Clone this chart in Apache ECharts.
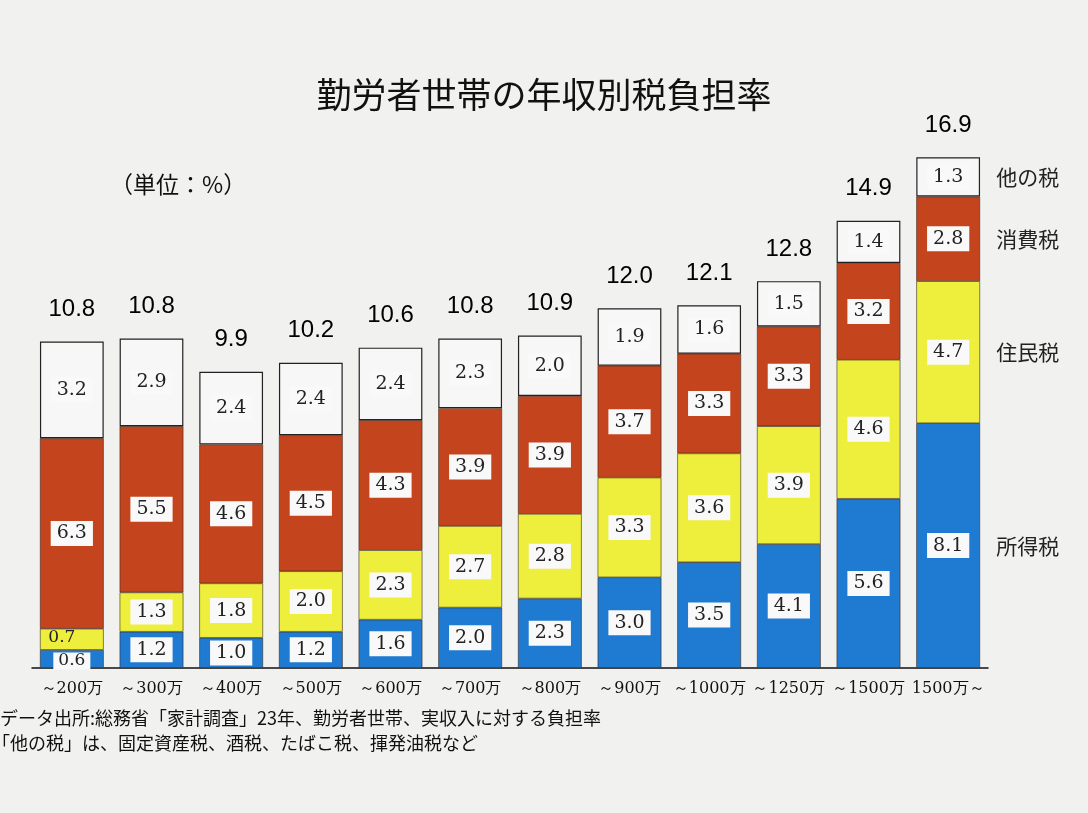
<!DOCTYPE html>
<html><head><meta charset="utf-8">
<script src="https://cdn.jsdelivr.net/npm/echarts@6/dist/echarts.min.js"></script>
<style>html,body{margin:0;padding:0;background:#f1f1f0}#c{width:1088px;height:813px}</style>
</head><body><div id="c"></div>
<script>
const categories = ['～200万','～300万','～400万','～500万','～600万','～700万','～800万','～900万','～1000万','～1250万','～1500万','1500万～'];
const incomeTax = [0.6,1.2,1.0,1.2,1.6,2.0,2.3,3.0,3.5,4.1,5.6,8.1];
const residentTax = [0.7,1.3,1.8,2.0,2.3,2.7,2.8,3.3,3.6,3.9,4.6,4.7];
const consumptionTax = [6.3,5.5,4.6,4.5,4.3,3.9,3.9,3.7,3.3,3.3,3.2,2.8];
const otherTax = [3.2,2.9,2.4,2.4,2.4,2.3,2.0,1.9,1.6,1.5,1.4,1.3];
const totals = [10.8,10.8,9.9,10.2,10.6,10.8,10.9,12.0,12.1,12.8,14.9,16.9];
const seriesNames = ['所得税','住民税','消費税','他の税'];

const chart = echarts.init(document.getElementById('c'));
const stacks = [incomeTax,residentTax,consumptionTax,otherTax];
const colors = ['#1f7ad2','#eeee3c','#c4441e','#f7f7f7'];
const serif = '"DejaVu Serif","Liberation Serif",serif';
const jp = '"Noto Sans CJK JP","Noto Sans",sans-serif';

const barSeries = stacks.map((arr,k)=>({
  name: seriesNames[k], type:'bar', stack:'t', barWidth:'80%',
  data: arr,
  itemStyle:{color:colors[k], borderColor: k===3?'#222':'#3a2a20', borderWidth: k===3?1.2:0.6},
  label:{show:true, position:'inside', fontFamily:serif, fontSize:19, color:'#222',
    backgroundColor:'#f9f9f9', padding: [3,6],
    formatter: p=>p.value.toFixed(1)}
}));
// small first-bar labels
barSeries[0].data = incomeTax.map((v,i)=> i===0 ? {value:v,label:{padding:[0,5],fontSize:17,offset:[0,2]}} : v);
barSeries[1].data = residentTax.map((v,i)=> i===0 ? {value:v,label:{padding:[0,5],fontSize:17,backgroundColor:'transparent',offset:[-10,-2]}} : v);

const sums = categories.map((c,i)=>stacks.reduce((s,a)=>s+a[i],0));
const last = categories.length-1;
const nameMarks = stacks.map((arr,k)=>{
  let base = 0; for(let j=0;j<k;j++) base += stacks[j][last];
  return {value:[last, base + arr[last]/2], label:{formatter: seriesNames[k]}};
});

chart.setOption({
  backgroundColor:'#f1f1f0',
  animation:false,
  title:{text:'勤労者世帯の年収別税負担率', left:'center', top:72,
    textStyle:{fontFamily:jp, fontSize:35, fontWeight:'normal', color:'#111'}},
  graphic:[
    {type:'text', left:110, top:173, style:{text:'（単位：%）', font:'23px '+jp, fill:'#111'}},
    {type:'text', left:0, top:709, style:{text:'データ出所:総務省「家計調査」23年、勤労者世帯、実収入に対する負担率', font:'18px '+jp, fill:'#111'}},
    {type:'text', left:-8, top:734, style:{text:'「他の税」は、固定資産税、酒税、たばこ税、揮発油税など', font:'18px '+jp, fill:'#111'}}
  ],
  grid:{left:32, right:100, top:124, bottom:145},
  xAxis:{type:'category', data:categories,
    axisLine:{lineStyle:{color:'#111', width:1.5}}, axisTick:{show:false},
    axisLabel:{fontFamily:serif, fontSize:16, color:'#111', margin:13, interval:0}},
  yAxis:{type:'value', min:0, max:18, show:false, splitLine:{show:false}},
  series:[
    ...barSeries,
    {type:'scatter', symbolSize:0, data: sums.map((s,i)=>[i,s]), z:5, itemStyle:{opacity:1},
      label:{show:true, position:'top', distance:20, fontFamily:'"Liberation Sans",Arial,sans-serif', fontSize:24, color:'#000',
        formatter:p=>totals[p.dataIndex].toFixed(1)}},
    {type:'scatter', symbolSize:0, data:nameMarks, z:5, itemStyle:{opacity:1},
      label:{show:true, position:'right', distance:48, fontFamily:jp, fontSize:21, color:'#222'}}
  ]
});
</script></body></html>
